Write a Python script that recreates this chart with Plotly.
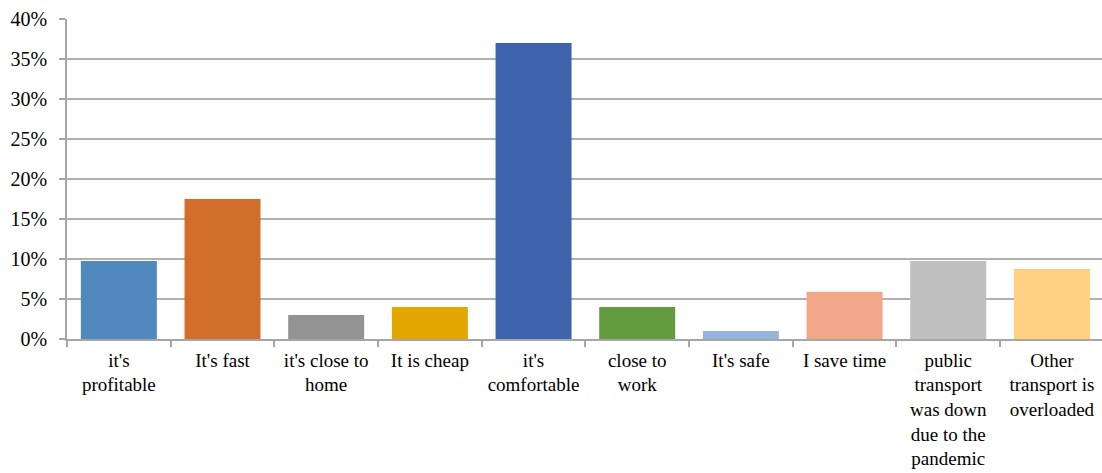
import plotly.graph_objects as go

categories = [
    "it's<br>profitable",
    "It's fast",
    "it's close to<br>home",
    "It is cheap",
    "it's<br>comfortable",
    "close to<br>work",
    "It's safe",
    "I save time",
    "public<br>transport<br>was down<br>due to the<br>pandemic",
    "Other<br>transport is<br>overloaded",
]
values = [0.0975, 0.175, 0.03, 0.04, 0.37, 0.04, 0.01, 0.059, 0.0975, 0.0875]
colors = ["#4F89BD", "#D26E2B", "#939393", "#E3A800", "#3D64AD",
          "#639C3E", "#95B4DB", "#F1A788", "#BFBFBF", "#FFD081"]
y_ticks = [0, 0.05, 0.10, 0.15, 0.20, 0.25, 0.30, 0.35, 0.40]

fig = go.Figure(go.Bar(
    x=categories,
    y=values,
    marker=dict(color=colors, line=dict(width=0)),
    width=0.733,
    hoverinfo="skip",
))

yfont = dict(family="Liberation Serif, Times New Roman, serif", size=20, color="#000000")
xfont = dict(family="Liberation Serif, Times New Roman, serif", size=19, color="#000000")

fig.update_layout(
    width=1102, height=473,
    margin=dict(l=67, r=0, t=19, b=134),
    paper_bgcolor="white", plot_bgcolor="white",
    showlegend=False,
    font=yfont,
    xaxis=dict(
        type="category",
        range=[-0.5, 9.483],
        tickson="boundaries",
        tickangle=0,
        automargin=False,
        showgrid=False,
        showline=True, linecolor="#A6A6A6", linewidth=1.5,
        ticks="outside", ticklen=6, tickcolor="#A6A6A6", tickwidth=1.5,
        tickfont=xfont, ticklabelstandoff=3,
        zeroline=False,
    ),
    yaxis=dict(
        range=[0, 0.40],
        tickvals=y_ticks,
        tickformat=".0%",
        automargin=False,
        showgrid=True, gridcolor="#B0B0B0", gridwidth=1.5,
        showline=True, linecolor="#A6A6A6", linewidth=1.5,
        ticks="outside", ticklen=6, tickcolor="#A6A6A6", tickwidth=1.5,
        tickfont=yfont, ticklabelstandoff=8,
        zeroline=False,
    ),
)

fig.write_html("out.html")
